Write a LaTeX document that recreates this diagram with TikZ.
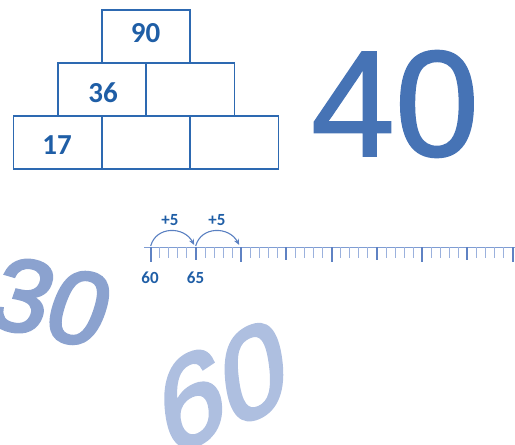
\documentclass[tikz,border=0pt]{standalone}
\usepackage{fontspec}
\setmainfont{Carlito}
\newfontface\bigfont[FakeBold=1.2]{Liberation Sans}
\newfontface\bigfontb[FakeBold=3]{Liberation Sans}
\usetikzlibrary{arrows.meta}
\definecolor{boxblue}{HTML}{2D69B1}
\definecolor{numblue}{HTML}{1F5EA6}
\definecolor{lineblue}{HTML}{7F9DD3}
\definecolor{minortick}{HTML}{9BB1DD}
\definecolor{majortick}{HTML}{5F82C3}
\definecolor{arcblue}{HTML}{5A80C1}
\definecolor{fortyc}{HTML}{4673B5}
\definecolor{thirtyc}{HTML}{8BA2CF}
\definecolor{sixtyc}{HTML}{AEBFE0}
\tikzset{
  cell/.style={draw=boxblue, line width=1.5pt, minimum width=88.4pt, minimum height=53pt, inner sep=0pt},
  cellnum/.style={text=numblue, font=\bfseries\fontsize{29}{29}\selectfont, inner sep=0pt},
  smallnum/.style={text=numblue, font=\bfseries\fontsize{17}{17}\selectfont, inner sep=0pt},
  bignum/.style={inner sep=0pt},
  jump/.style={draw=arcblue, line width=1.1pt, -{Stealth[length=6pt,width=5pt]}},
}
\begin{document}
\begin{tikzpicture}[x=1pt,y=-1pt]
\useasboundingbox (0,0) rectangle (515,445);
% big numbers
\node[bignum, text=thirtyc, font=\bigfontb\fontsize{104}{104}\selectfont, rotate=-12, xslant=0.12] (thirty) at (51,302) {30};
\node[bignum, text=sixtyc, font=\bigfontb\fontsize{122}{122}\selectfont, rotate=24, xslant=0.3] (sixty) at (223,386) {60};
\node[bignum, text=fortyc, font=\bigfont\fontsize{151}{151}\selectfont] (forty) at (395,104) {40};
% pyramid
\node[cell] (top) at (146,36.7) {};
\node[cell] (midL) at (102,89.4) {};
\node[cell] (midR) at (190.3,89.4) {};
\node[cell] (botL) at (57.7,142.7) {};
\node[cell] (botM) at (146,142.7) {};
\node[cell] (botR) at (234.3,142.7) {};
\node[cellnum] (n90) at (145.5,33.5) {90};
\node[cellnum] (n36) at (103,92.5) {36};
\node[cellnum] (n17) at (57,145.5) {17};
% number line
\coordinate (nlL) at (144,247);
\coordinate (nlR) at (515,247);
\draw[lineblue, line width=1pt] (nlL) -- (nlR);
\foreach \i in {61,...,99} {
  \draw[minortick, line width=0.9pt] ({150.7+9.05*(\i-60)},247) -- ({150.7+9.05*(\i-60)},258);
}
\foreach \i in {65,75,85,95} {
  \draw[majortick, line width=2pt] ({150.7+9.05*(\i-60)},247) -- ({150.7+9.05*(\i-60)},260);
}
\foreach \i in {60,70,80,90,100} {
  \draw[majortick, line width=2pt] ({150.7+9.05*(\i-60)},247) -- ({150.7+9.05*(\i-60)},262);
}
\coordinate (a60) at (150.7,247);
\coordinate (a65) at (195.7,247);
\coordinate (a70) at (240.7,247);
\draw[jump] ([yshift=1pt]a60) .. controls (156,226) and (184,226) .. ([xshift=-1.5pt,yshift=2pt]a65);
\draw[jump] ([yshift=1pt]a65) .. controls (201,226) and (229,226) .. ([xshift=-1.5pt,yshift=2pt]a70);
\node[smallnum] (p1) at (170,220.5) {+5};
\node[smallnum] (p2) at (217,220.5) {+5};
\node[smallnum] (l60) at (150,278) {60};
\node[smallnum] (l65) at (195.5,278) {65};
\end{tikzpicture}
\end{document}
